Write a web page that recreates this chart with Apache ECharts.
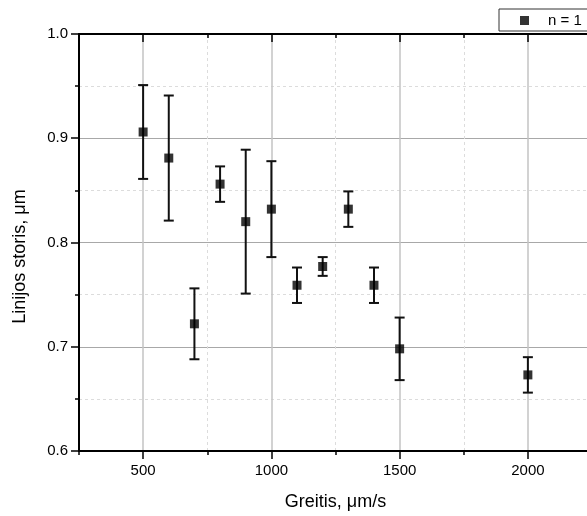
<!DOCTYPE html>
<html>
<head>
<meta charset="utf-8">
<script src="https://cdn.jsdelivr.net/npm/echarts@6/dist/echarts.min.js"></script>
<style>html,body{margin:0;padding:0;background:#fff}#c{width:587px;height:516px}</style>
</head>
<body>
<div id="c"></div>
<script>
// Data
const speeds = [500, 600, 700, 800, 900, 1000, 1100, 1200, 1300, 1400, 1500, 2000];
const thickness = [0.906, 0.881, 0.722, 0.856, 0.820, 0.832, 0.759, 0.777, 0.832, 0.759, 0.698, 0.673];
const errors = [0.045, 0.060, 0.034, 0.017, 0.069, 0.046, 0.017, 0.009, 0.017, 0.017, 0.030, 0.017];
const seriesName = 'n = 1';
const xTitle = 'Greitis, \u03bcm/s';
const yTitle = 'Linijos storis, \u03bcm';

const FONT = 'Liberation Sans, Arial, sans-serif';
const chart = echarts.init(document.getElementById('c'), null, {renderer: 'canvas'});

const pts = speeds.map((s, i) => [s, thickness[i]]);
const bars = speeds.map((s, i) => [s, thickness[i] - errors[i], thickness[i] + errors[i]]);

const axisLineStyle = {color: '#000', width: 2};

chart.setOption({
  animation: false,
  backgroundColor: '#fff',
  grid: {left: 79, width: 513, top: 34, bottom: 65, containLabel: false, outerBoundsMode: 'none'},
  legend: {
    data: [seriesName],
    left: 499, top: 9,
    padding: [4, 60, 3, 21],
    borderColor: '#333', borderWidth: 1,
    itemWidth: 9, itemHeight: 9,
    textStyle: {fontFamily: FONT, fontSize: 15, color: '#000', padding: [0, 0, 0, 14]}
  },
  xAxis: [
    {
      type: 'value', min: 250, max: 2250, interval: 500, position: 'bottom',
      axisLine: {show: true, onZero: false, lineStyle: axisLineStyle},
      axisTick: {show: true, inside: false, length: 4, lineStyle: {color: '#000', width: 1.5}},
      minorTick: {show: true, splitNumber: 2, length: 8, lineStyle: {color: '#000', width: 1.5}},
      axisLabel: {show: false},
      splitLine: {show: true, lineStyle: {color: '#dcdcdc', type: [3, 3], width: 1}},
      minorSplitLine: {show: true, lineStyle: {color: '#c4c4c4', width: 1.5}},
      name: xTitle, nameLocation: 'middle', nameGap: 42,
      nameTextStyle: {fontFamily: FONT, fontSize: 18, color: '#000'}
    },
    {
      type: 'value', min: 250, max: 2250, interval: 250, position: 'bottom',
      axisLine: {show: false}, axisTick: {show: false}, splitLine: {show: false},
      axisLabel: {
        show: true, margin: 12, fontFamily: FONT, fontSize: 15, color: '#000',
        formatter: v => (v % 500 === 0 ? String(v) : '')
      }
    },
    {
      type: 'value', min: 250, max: 2250, interval: 500, position: 'top',
      axisLine: {show: true, onZero: false, lineStyle: axisLineStyle},
      axisTick: {show: true, inside: true, length: 4, lineStyle: {color: '#000', width: 1.5}},
      minorTick: {show: true, splitNumber: 2, length: 8, lineStyle: {color: '#000', width: 1.5}},
      axisLabel: {show: false}, splitLine: {show: false}
    }
  ],
  yAxis: [{
    type: 'value', min: 0.6, max: 1.0, interval: 0.1, position: 'left',
    axisLine: {show: true, onZero: false, lineStyle: axisLineStyle},
    axisTick: {show: true, inside: false, length: 8, lineStyle: {color: '#000', width: 1.5}},
    minorTick: {show: true, splitNumber: 2, length: 4, lineStyle: {color: '#000', width: 1.5}},
    axisLabel: {margin: 11, fontFamily: FONT, fontSize: 15, color: '#000', formatter: v => v.toFixed(1)},
    splitLine: {show: true, lineStyle: {color: '#a8a8a8', width: 1}},
    minorSplitLine: {show: true, lineStyle: {color: '#dcdcdc', type: [3, 3], width: 1}},
    name: yTitle, nameLocation: 'middle', nameGap: 50,
    nameTextStyle: {fontFamily: FONT, fontSize: 18, color: '#000', padding: [0, 28, 0, 0]}
  }],
  series: [
    {
      type: 'custom', name: 'err', xAxisIndex: 0, yAxisIndex: 0,
      data: bars, encode: {x: 0, y: [1, 2]}, z: 3, silent: true,
      renderItem: function (params, api) {
        const x = api.value(0);
        const top = api.coord([x, api.value(2)]);
        const bot = api.coord([x, api.value(1)]);
        const w = 5;
        const st = {stroke: '#111', lineWidth: 2};
        return {type: 'group', children: [
          {type: 'line', shape: {x1: top[0], y1: top[1], x2: bot[0], y2: bot[1]}, style: st},
          {type: 'line', shape: {x1: top[0] - w, y1: top[1], x2: top[0] + w, y2: top[1]}, style: st},
          {type: 'line', shape: {x1: bot[0] - w, y1: bot[1], x2: bot[0] + w, y2: bot[1]}, style: st}
        ]};
      }
    },
    {
      type: 'scatter', name: seriesName, xAxisIndex: 0, yAxisIndex: 0,
      data: pts, symbol: 'rect', symbolSize: 9, z: 4,
      itemStyle: {color: '#000'}
    }
  ]
});
</script>
</body>
</html>
